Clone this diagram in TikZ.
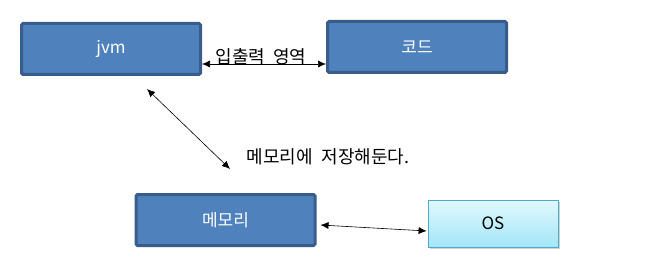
\documentclass[tikz,border=0pt]{standalone}
\usepackage{fontspec}
\setmainfont{Noto Sans CJK KR}
\usetikzlibrary{arrows.meta,shadows}
\definecolor{boxblue}{HTML}{4F81BD}
\definecolor{boxedge}{HTML}{385D8A}
\definecolor{osedge}{HTML}{4BACC6}
\definecolor{ostop}{HTML}{E0F8FD}
\definecolor{osbottom}{HTML}{A3E6F8}
\tikzset{
  bluebox/.style={draw=boxedge,fill=boxblue,line width=3pt,rounded corners=1.5pt,minimum width=179pt,minimum height=51pt,text=white,font=\fontsize{17}{19}\selectfont},
  osbox/.style={draw=osedge,line width=.8pt,top color=ostop,bottom color=osbottom,minimum width=130pt,minimum height=47pt,font=\fontsize{17}{19}\selectfont,drop shadow={shadow xshift=2pt,shadow yshift=-2pt,opacity=.35}},
  note/.style={font=\fontsize{18}{20}\selectfont,inner sep=1pt},
  flow/.style={{Latex[length=8pt,width=7pt]}-{Latex[length=8pt,width=7pt]},line width=.6pt},
}
\begin{document}
\begin{tikzpicture}[x=1pt,y=-1pt]
  \useasboundingbox (0,0) rectangle (655,259);
  \node[bluebox] (jvm) at (111,49) {jvm};
  \node[bluebox] (code) at (417,47) {코드};
  \node[bluebox] (mem) at (225.5,220) {메모리};
  \node[osbox] (os) at (493,223.5) {\raisebox{-4pt}{OS}};
  \node[note] (io) at (261,57) {입출력\hspace{8pt}영역};
  \node[note] (store) at (328,157) {메모리에\hspace{9pt}저장해둔다.};
  \draw[flow] ([yshift=-15pt]jvm.east) -- ([yshift=-17pt]code.west);
  \draw[flow] ([xshift=36pt,yshift=-13pt]jvm.south) -- ([xshift=4.5pt,yshift=24pt]mem.north);
  \draw[flow] ([xshift=4pt,yshift=-5pt]mem.east) -- ([xshift=-1pt,yshift=-7.5pt]os.west);
\end{tikzpicture}
\end{document}
